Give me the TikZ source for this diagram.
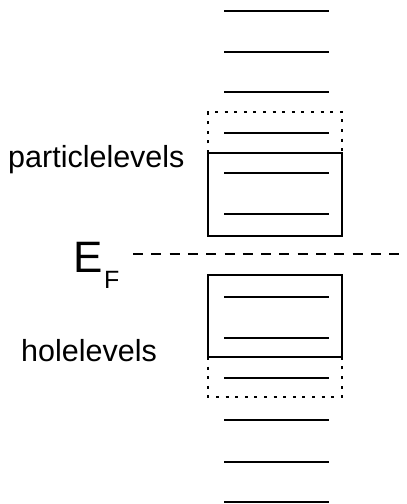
\documentclass[tikz,border=0pt]{standalone}
\usepackage{fontspec}
\setmainfont{Liberation Sans}
\usepackage{tikz}
\usetikzlibrary{calc}

\begin{document}
\begin{tikzpicture}[x=1pt, y=-1pt,
	level/.style = {line width=2pt},
	band/.style = {draw, line width=1.4pt},
	fringe/.style = {line width=1.8pt, dash pattern=on 3pt off 6.6pt},
	label/.style = {inner sep=0pt, anchor=base west, font=\fontsize{30.5}{36}\selectfont}]
	\useasboundingbox (0, 0) rectangle (407, 504);

	% single particle levels above and below the Fermi energy
	\draw[level] (224, 11) --  (329, 11);
	\draw[level] (224, 51.7) --  (329, 51.7);
	\draw[level] (224, 92.3) --  (329, 92.3);
	\draw[level] (224, 132.5) --  (329, 132.5);
	\draw[level] (224, 173) --  (329, 173);
	\draw[level] (224, 214) --  (329, 214);

	\draw[level] (224, 296.7) --  (329, 296.7);
	\draw[level] (224, 338) --  (329, 338);
	\draw[level] (224, 378.3) --  (329, 378.3);
	\draw[level] (224, 420) --  (329, 420);
	\draw[level] (224, 461.5) --  (329, 461.5);
	\draw[level] (224, 502) --  (329, 502);

	% particle and hole spaces
	\draw[band] (208, 153) rectangle (342, 236);
	\draw[fringe] (208, 153) -- (208, 112) -- (342, 112) -- (342, 153);
	\draw[band] (208, 275) rectangle (342, 357);
	\draw[fringe] (208, 357) -- (208, 397) -- (342, 397) -- (342, 357);

	% Fermi energy
	\node [label] (part) at (8, 167) {particlelevels};
	\node [label] (hole) at (21, 361.7) {holelevels};
	\node [inner sep=0pt, anchor=base west, font=\fontsize{44}{50}\selectfont] (EF) at (73.5, 272)
		{E\kern1pt\raisebox{-16.3pt}{\fontsize{25}{30}\selectfont F}};
	\coordinate (fermi) at (407, 254);
	\coordinate (fermistart) at (133, 254);
	\draw[line width=1.4pt, dash pattern=on 10pt off 8.3pt] (fermistart) -- (fermi);

\end{tikzpicture}
\end{document}
